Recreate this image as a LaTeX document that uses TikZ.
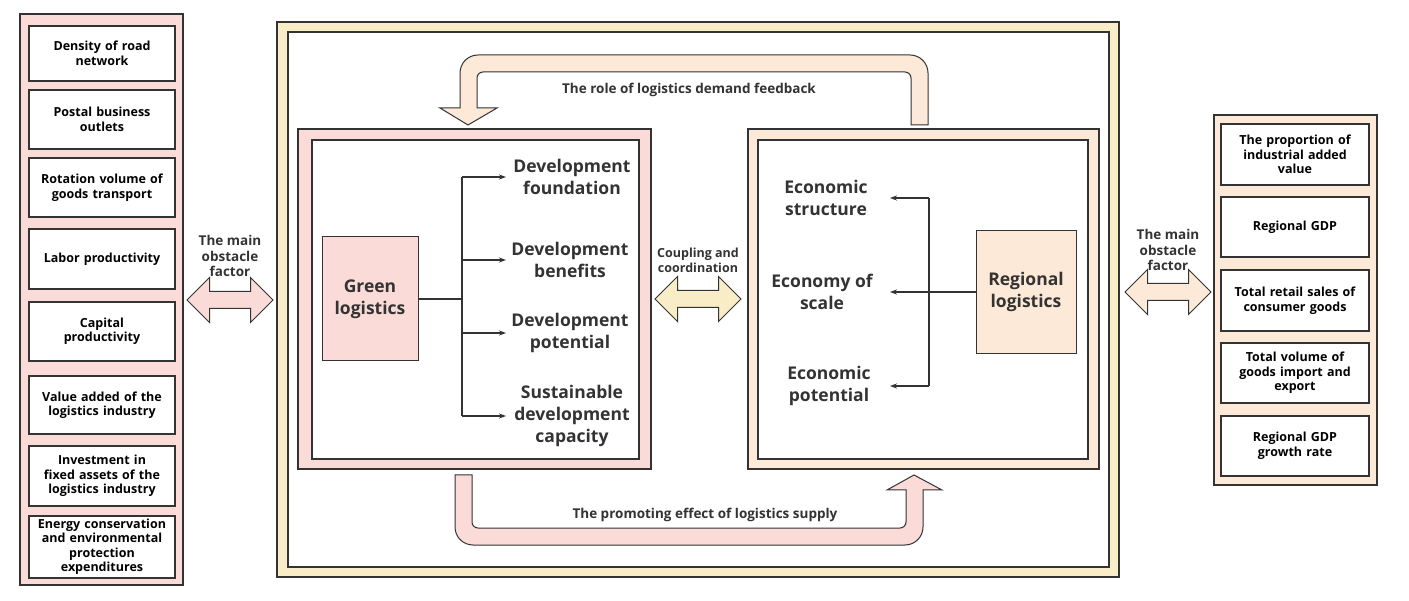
\documentclass[tikz,border=0pt]{standalone}
\usepackage{fontspec}
\setmainfont{Open Sans}
\usetikzlibrary{positioning,shapes.arrows,arrows.meta}
\definecolor{pinkf}{HTML}{FADBD8}
\definecolor{yelf}{HTML}{F8EDC6}
\definecolor{crmf}{HTML}{FCE9D7}
\definecolor{ink}{HTML}{333333}
\tikzset{
  ibox/.style={draw=ink,fill=white,line width=1.2pt,align=center,font=\bfseries\fontsize{12.5}{14.5}\selectfont,text width=135pt,inner sep=0pt},
  big/.style={align=center,font=\bfseries\fontsize{17.5}{22}\selectfont,text=ink},
  lab/.style={align=center,font=\bfseries\fontsize{13.5}{15.5}\selectfont,text=ink},
  darr/.style={double arrow,draw=ink,line width=1pt,minimum height=86pt,double arrow head extend=14pt,double arrow head indent=0pt,inner sep=0pt},
  link/.style={draw=ink,line width=1.2pt},
  tip/.style={-{Stealth[length=7pt,width=5pt]}}
}
\newcommand{\shaft}{\rule{0pt}{16pt}}
\begin{document}
\begin{tikzpicture}[x=1pt,y=-1pt]
\useasboundingbox (0,0) rectangle (1409,601);
% left indicators
\draw[ink,fill=pinkf,line width=1.2pt] (20,14) rectangle (183,585);
\foreach \n/\a/\b/\t in {l1/26/81/{Density of road\\network},l2/90/149/{Postal business\\outlets},l3/158/217/{Rotation volume of\\goods transport},l4/229/289/{Labor productivity},l5/302/361/{Capital\\productivity},l6/376/434/{Value added of the\\logistics industry},l7/446/506/{Investment in\\fixed assets of the\\logistics industry},l8/516/578/{Energy conservation\\and environmental\\protection\\expenditures}}
  \node[ibox,minimum width=146pt,minimum height=\b-\a] (\n) at (102,{(\a+\b)/2}) {\t};
% right indicators
\draw[ink,fill=crmf,line width=1.2pt] (1214,115) rectangle (1377,485);
\foreach \n/\a/\b/\t in {r1/124/185/{The proportion of\\industrial added\\value},r2/197/257/{Regional GDP},r3/270/331/{Total retail sales of\\consumer goods},r4/343/403/{Total volume of\\goods import and\\export},r5/416/476/{Regional GDP\\growth rate}}
  \node[ibox,minimum width=148pt,minimum height=\b-\a] (\n) at (1295,{(\a+\b)/2}) {\t};
% outer frame
\draw[ink,fill=yelf,line width=1.2pt] (277,22) rectangle (1119,577);
\draw[ink,fill=white,line width=1.2pt] (288,32) rectangle (1109,567);
% green logistics panel
\draw[ink,fill=pinkf,line width=1.2pt] (298,129) rectangle (651,469);
\draw[ink,fill=white,line width=1.2pt] (312,140) rectangle (639,459);
\node[draw=ink,fill=pinkf,line width=1pt,minimum width=96pt,minimum height=124pt,big] (gl) at (370,299) {Green\\logistics};
\node[big] (g1) at (572,177) {Development\\foundation};
\node[big] (g2) at (570,260) {Development\\benefits};
\node[big] (g3) at (570,333) {Development\\potential};
\node[big] (g4) at (572,416) {Sustainable\\development\\capacity};
\coordinate (gj) at (462,299);
\draw[link] (gl.east) -- (gl.east -| gj);
\draw[link] (gj |- g1) -- (gj |- g4);
\foreach \n in {g1,g2,g3,g4}
  \draw[link,tip] (gj |- \n) -- ++(44,0);
% regional logistics panel
\draw[ink,fill=crmf,line width=1.2pt] (748,129) rectangle (1099,469);
\draw[ink,fill=white,line width=1.2pt] (758,140) rectangle (1088,459);
\node[draw=ink,fill=crmf,line width=1pt,minimum width=100pt,minimum height=123pt,big] (rl) at (1026,292) {Regional\\logistics};
\node[big] (e1) at (826,198) {Economic\\structure};
\node[big] (e2) at (822,292) {Economy of\\scale};
\node[big] (e3) at (829,386) {Economic\\potential};
\coordinate (rj) at (929,292);
\draw[link] (rl.west) -- (rj);
\draw[link] (rj |- e1) -- (rj |- e3);
\foreach \n in {e1,e2,e3}
  \draw[link,tip] (rj |- \n) -- ++(-39,0);
% double arrows
\node[darr,fill=pinkf] (al) at (230,300) {\shaft};
\node[lab] (tl) at (230,256) {The main\\obstacle\\factor};
\node[darr,fill=yelf] (am) at (698,299) {\shaft};
\node[lab,font=\bfseries\fontsize{12.5}{15}\selectfont] (tm) at (698,260) {Coupling and\\coordination};
\node[darr,fill=crmf] (ar) at (1168,292) {\shaft};
\node[lab] (tr) at (1168,250) {The main\\obstacle\\factor};
% feedback arrows
\draw[ink,fill=crmf,line width=1pt] (911,125) [rounded corners=6pt] -- (911,72) -- (477,72) [sharp corners] -- (477,108) -- (497,108) -- (468,125) -- (440,108) -- (460,108) [rounded corners=18pt] -- (460,55) -- (928,55) [sharp corners] -- (928,125) -- cycle;
\node[lab] (tf) at (689,90) {The role of logistics demand feedback};
\draw[ink,fill=pinkf,line width=1pt] (455,475) [rounded corners=18pt] -- (455,545) -- (923,545) [sharp corners] -- (923,490) -- (942,490) -- (914,475) -- (887,490) -- (906,490) [rounded corners=6pt] -- (906,528) -- (472,528) [sharp corners] -- (472,475) -- cycle;
\node[lab] (ts) at (705,515) {The promoting effect of logistics supply};
\end{tikzpicture}
\end{document}
